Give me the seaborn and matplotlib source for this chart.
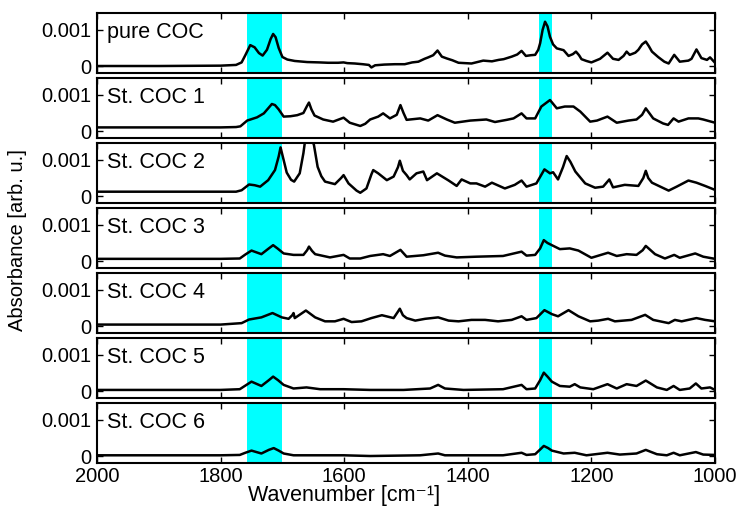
import matplotlib
matplotlib.use('Agg')
from matplotlib import pyplot as plt
import pandas as pd
import seaborn as sns

# spektra: (vlnocet [cm-1], absorbance [1e-3 arb. u.])
pure_coc = [(2000, 0.0), (1900, 0.0), (1800, 0.01), (1775, 0.03), (1766, 0.1), (1760, 0.3), (1752, 0.58),
            (1745, 0.52), (1738, 0.36), (1732, 0.29), (1725, 0.45), (1719, 0.75), (1715, 0.89), (1711, 0.8),
            (1706, 0.5), (1700, 0.25), (1692, 0.18), (1680, 0.14), (1660, 0.11), (1640, 0.1), (1626, 0.09),
            (1610, 0.09), (1601, 0.1), (1595, 0.08), (1583, 0.07), (1570, 0.05), (1560, 0.03), (1556, -0.04),
            (1550, 0.02), (1535, 0.04), (1518, 0.05), (1502, 0.05), (1490, 0.1), (1480, 0.12), (1470, 0.2),
            (1464, 0.24), (1456, 0.3), (1449, 0.43), (1442, 0.26), (1434, 0.21), (1425, 0.16), (1415, 0.09),
            (1394, 0.07), (1375, 0.15), (1361, 0.13), (1350, 0.17), (1342, 0.19), (1329, 0.26), (1320, 0.32),
            (1313, 0.42), (1306, 0.28), (1298, 0.3), (1291, 0.31), (1286, 0.45), (1283, 0.63), (1279, 1.0),
            (1275, 1.23), (1271, 1.1), (1267, 0.81), (1262, 0.6), (1256, 0.49), (1245, 0.44), (1237, 0.28),
            (1230, 0.33), (1225, 0.40), (1220, 0.3), (1216, 0.19), (1208, 0.14), (1200, 0.10), (1186, 0.2),
            (1174, 0.37), (1165, 0.2), (1156, 0.17), (1148, 0.28), (1143, 0.4), (1138, 0.31), (1129, 0.37),
            (1124, 0.45), (1118, 0.6), (1112, 0.68), (1107, 0.55), (1102, 0.4), (1092, 0.25), (1082, 0.12),
            (1075, 0.07), (1066, 0.31), (1057, 0.12), (1043, 0.15), (1038, 0.2), (1030, 0.46), (1022, 0.22),
            (1013, 0.17), (1008, 0.24), (1000, 0.09)]

st_coc_1 = [(2000, 0.1), (1800, 0.1), (1775, 0.11), (1768, 0.13), (1757, 0.29), (1741, 0.38), (1730, 0.49),
            (1722, 0.65), (1717, 0.75), (1712, 0.72), (1706, 0.6), (1698, 0.4), (1687, 0.41), (1676, 0.44),
            (1666, 0.5), (1660, 0.7), (1657, 0.79), (1653, 0.6), (1648, 0.43), (1634, 0.32), (1618, 0.26),
            (1601, 0.37), (1591, 0.23), (1574, 0.14), (1566, 0.2), (1558, 0.32), (1545, 0.4), (1537, 0.49),
            (1526, 0.35), (1515, 0.45), (1509, 0.72), (1504, 0.5), (1499, 0.31), (1477, 0.35), (1464, 0.29),
            (1449, 0.44), (1434, 0.32), (1421, 0.23), (1396, 0.29), (1370, 0.32), (1356, 0.25), (1337, 0.31),
            (1326, 0.35), (1313, 0.49), (1305, 0.35), (1291, 0.35), (1281, 0.68), (1267, 0.86), (1256, 0.63),
            (1243, 0.68), (1229, 0.68), (1218, 0.54), (1202, 0.26), (1191, 0.29), (1174, 0.40), (1159, 0.23),
            (1140, 0.29), (1127, 0.32), (1118, 0.45), (1112, 0.63), (1100, 0.35), (1084, 0.21), (1076, 0.17),
            (1067, 0.35), (1059, 0.26), (1043, 0.35), (1027, 0.35), (1019, 0.32), (1000, 0.23)]

st_coc_2 = [(2000, 0.12), (1800, 0.12), (1775, 0.12), (1766, 0.16), (1754, 0.32), (1745, 0.3), (1736, 0.26),
            (1723, 0.44), (1712, 0.72), (1706, 1.1), (1703, 1.35), (1698, 1.0), (1693, 0.65), (1686, 0.45),
            (1681, 0.4), (1672, 0.63), (1666, 1.19), (1662, 1.7), (1658, 1.9), (1653, 1.6), (1649, 1.42),
            (1643, 0.81), (1637, 0.55), (1631, 0.4), (1615, 0.33), (1605, 0.5), (1601, 0.58), (1593, 0.35),
            (1580, 0.15), (1574, 0.09), (1564, 0.21), (1556, 0.6), (1553, 0.72), (1545, 0.63), (1531, 0.44),
            (1520, 0.54), (1513, 0.8), (1510, 0.98), (1505, 0.7), (1499, 0.58), (1494, 0.46), (1483, 0.63),
            (1472, 0.68), (1466, 0.44), (1450, 0.63), (1431, 0.43), (1418, 0.28), (1410, 0.46), (1396, 0.35),
            (1386, 0.35), (1372, 0.26), (1361, 0.37), (1340, 0.21), (1324, 0.31), (1313, 0.43), (1305, 0.26),
            (1289, 0.35), (1276, 0.74), (1267, 0.63), (1262, 0.66), (1254, 0.46), (1246, 0.8), (1240, 1.11),
            (1234, 0.95), (1226, 0.68), (1210, 0.35), (1194, 0.23), (1181, 0.26), (1171, 0.46), (1165, 0.24),
            (1146, 0.31), (1124, 0.28), (1116, 0.5), (1112, 0.70), (1108, 0.5), (1102, 0.37), (1075, 0.15),
            (1062, 0.26), (1043, 0.43), (1030, 0.37), (1016, 0.28), (1000, 0.17)]

st_coc_3 = [(2000, 0.06), (1800, 0.06), (1769, 0.07), (1760, 0.18), (1750, 0.29), (1742, 0.24), (1734, 0.19),
            (1722, 0.35), (1715, 0.44), (1708, 0.35), (1698, 0.21), (1682, 0.17), (1666, 0.17), (1660, 0.3),
            (1657, 0.40), (1652, 0.28), (1647, 0.19), (1623, 0.1), (1601, 0.17), (1591, 0.07), (1574, 0.07),
            (1558, 0.14), (1537, 0.19), (1526, 0.14), (1509, 0.31), (1499, 0.12), (1472, 0.16), (1448, 0.23),
            (1437, 0.15), (1418, 0.1), (1386, 0.12), (1343, 0.14), (1313, 0.26), (1305, 0.15), (1291, 0.17),
            (1283, 0.35), (1277, 0.58), (1271, 0.5), (1264, 0.44), (1251, 0.33), (1235, 0.35), (1221, 0.29),
            (1200, 0.09), (1173, 0.23), (1159, 0.14), (1143, 0.19), (1127, 0.17), (1117, 0.3), (1112, 0.42),
            (1097, 0.19), (1081, 0.07), (1066, 0.17), (1057, 0.09), (1032, 0.21), (1019, 0.12), (1000, 0.06)]

st_coc_4 = [(2000, 0.04), (1800, 0.04), (1766, 0.08), (1754, 0.18), (1734, 0.24), (1716, 0.36), (1701, 0.24),
            (1690, 0.2), (1684, 0.3), (1682, 0.36), (1680, 0.22), (1662, 0.43), (1647, 0.24), (1631, 0.13),
            (1615, 0.13), (1601, 0.2), (1588, 0.11), (1572, 0.13), (1556, 0.22), (1539, 0.30), (1520, 0.22),
            (1513, 0.4), (1510, 0.48), (1505, 0.3), (1499, 0.22), (1485, 0.15), (1469, 0.2), (1448, 0.24),
            (1431, 0.15), (1415, 0.13), (1394, 0.17), (1372, 0.17), (1351, 0.13), (1329, 0.17), (1313, 0.27),
            (1305, 0.17), (1289, 0.22), (1276, 0.44), (1264, 0.33), (1254, 0.27), (1237, 0.44), (1221, 0.27),
            (1202, 0.13), (1189, 0.15), (1173, 0.2), (1162, 0.13), (1135, 0.17), (1113, 0.31), (1100, 0.17),
            (1075, 0.08), (1065, 0.17), (1054, 0.13), (1030, 0.22), (1016, 0.17), (1000, 0.13)]

st_coc_5 = [(2000, 0.03), (1800, 0.03), (1769, 0.05), (1760, 0.15), (1750, 0.26), (1742, 0.2), (1734, 0.14),
            (1722, 0.3), (1715, 0.40), (1707, 0.3), (1698, 0.17), (1682, 0.07), (1661, 0.1), (1639, 0.05),
            (1601, 0.05), (1558, 0.03), (1504, 0.03), (1461, 0.07), (1448, 0.17), (1437, 0.07), (1407, 0.03),
            (1343, 0.05), (1313, 0.17), (1305, 0.05), (1291, 0.07), (1283, 0.3), (1277, 0.51), (1271, 0.4),
            (1264, 0.26), (1251, 0.14), (1235, 0.12), (1227, 0.19), (1218, 0.1), (1197, 0.05), (1174, 0.19),
            (1159, 0.07), (1143, 0.19), (1127, 0.14), (1112, 0.29), (1094, 0.1), (1078, 0.03), (1067, 0.14),
            (1057, 0.03), (1041, 0.07), (1031, 0.21), (1022, 0.07), (1008, 0.1), (1000, 0.03)]

st_coc_6 = [(2000, 0.02), (1800, 0.02), (1769, 0.03), (1760, 0.09), (1750, 0.15), (1742, 0.11), (1734, 0.07),
            (1722, 0.17), (1714, 0.22), (1706, 0.15), (1698, 0.07), (1682, 0.02), (1601, 0.02), (1558, 0.0),
            (1477, 0.02), (1448, 0.07), (1437, 0.02), (1343, 0.02), (1313, 0.09), (1305, 0.03), (1291, 0.05),
            (1283, 0.18), (1277, 0.28), (1270, 0.22), (1264, 0.15), (1245, 0.07), (1227, 0.09), (1208, 0.02),
            (1174, 0.09), (1154, 0.04), (1127, 0.07), (1112, 0.17), (1094, 0.05), (1078, 0.02), (1067, 0.09),
            (1057, 0.02), (1031, 0.11), (1019, 0.04), (1000, 0.03)]

labels = ['pure COC', 'St. COC 1', 'St. COC 2', 'St. COC 3', 'St. COC 4', 'St. COC 5', 'St. COC 6']
spectra = [pure_coc, st_coc_1, st_coc_2, st_coc_3, st_coc_4, st_coc_5, st_coc_6]

# zvyraznene pasy [cm-1]
bands = [(1758, 1701), (1285, 1264)]
xticks = [2000, 1800, 1600, 1400, 1200, 1000]

sns.set_style('ticks')
plt.rcParams['font.family'] = ['Liberation Sans', 'DejaVu Sans']
plt.rcParams['text.color'] = 'black'
plt.rcParams['axes.linewidth'] = 1.5
plt.rcParams['axes.edgecolor'] = 'black'

W, H = 744, 509
fig = plt.figure(figsize=(W / 100, H / 100), dpi=100)

for i, (name, spec) in enumerate(zip(labels, spectra)):
    top = 13 + 65 * i
    ax = fig.add_axes([97 / W, 1 - (top + 60) / H, 618 / W, 60 / H])

    df = pd.DataFrame(spec, columns=['wn', 'ab'])
    df['ab'] = df['ab'] * 1e-3

    for lo, hi in bands:
        ax.axvspan(hi, lo, color='#00ffff', lw=0, zorder=0)

    sns.lineplot(data=df, x='wn', y='ab', ax=ax, color='black', lw=1.8,
                 estimator=None, sort=False, zorder=2)

    ax.set_xlim(2000, 1000)
    ax.set_ylim(-0.000194, 0.001472)
    ax.set_yticks([0, 0.001])
    ax.set_yticklabels(['0', '0.001'])
    ax.set_xticks(xticks)
    ax.tick_params(direction='in', top=True, right=True, length=4, width=1,
                   labelsize=14.5, pad=4, colors='black')
    ax.tick_params(axis='x', pad=3)
    if i < len(labels) - 1:
        ax.set_xticklabels([])
    else:
        ax.set_xticklabels([str(t) for t in xticks])
    ax.set(xlabel='', ylabel='')

    ax.text(1984, 0.00094, name, ha='left', va='center', fontsize=15.5, color='black')

fig.text(248 / W, 1 - 495 / H, 'Wavenumber [cm\u207b\u00b9]', ha='left', va='center',
         fontsize=15.5, family=['Liberation Sans', 'DejaVu Sans'])
fig.text(18 / W, 1 - 240 / H, 'Absorbance [arb. u.]', ha='center', va='center',
         rotation=90, fontsize=14.5)

fig.savefig('out.png', dpi=100)
plt.close(fig)
